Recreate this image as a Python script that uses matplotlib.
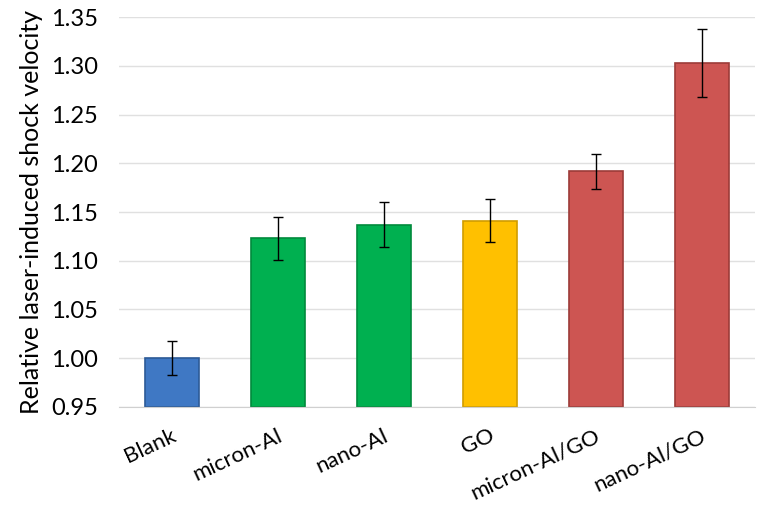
import numpy as np
import matplotlib.pyplot as plt
from matplotlib import transforms

samples = ['Blank', 'micron-Al', 'nano-Al', 'GO', 'micron-Al/GO', 'nano-Al/GO']
velocity = [1.000, 1.123, 1.137, 1.141, 1.192, 1.303]
err = [0.017, 0.022, 0.023, 0.022, 0.018, 0.035]
colors = ['#3f78c4', '#00b050', '#00b050', '#ffc000', '#cd5552', '#cd5552']
edges = ['#2c5a97', '#008a3c', '#008a3c', '#d19c00', '#9c3b38', '#9c3b38']
yticks = [0.95, 1.00, 1.05, 1.10, 1.15, 1.20, 1.25, 1.30, 1.35]

plt.rcParams['font.family'] = ['Lato', 'DejaVu Sans']

fig = plt.figure(figsize=(7.58, 5.05), dpi=100)
ax = fig.add_axes([119 / 758, 1 - 406.7 / 505, 636 / 758, (406.7 - 17.3) / 505])

x = np.arange(len(samples))
ax.bar(x, np.array(velocity) - 0.95, bottom=0.95, width=0.51, color=colors,
       edgecolor=edges, linewidth=1.2, zorder=2)
ax.errorbar(x, velocity, yerr=err, fmt='none', ecolor='black', elinewidth=1,
            capsize=3.5, capthick=1, zorder=3)

ax.set_xlim(-0.5, len(samples) - 0.5)
ax.set_ylim(0.95, 1.35)
ax.set_yticks(yticks)
ax.set_yticklabels(['%.2f' % v for v in yticks], fontsize=17)
ax.yaxis.grid(True, color='#e0e0e0', linewidth=1, zorder=0)
ax.set_axisbelow(True)
for s in ['top', 'right', 'left']:
    ax.spines[s].set_visible(False)
ax.spines['bottom'].set_color('#d0d0d0')
ax.tick_params(axis='both', length=0)
ax.tick_params(axis='y', pad=15)

ax.set_xticks(x)
ax.set_xticklabels(samples, fontsize=16, rotation=25, ha='right', rotation_mode='anchor')
offset = transforms.ScaledTranslation(-1 / 72, -10 / 72, fig.dpi_scale_trans)
for lab in ax.get_xticklabels():
    lab.set_transform(lab.get_transform() + offset)

ax.set_ylabel('Relative laser-induced shock velocity', fontsize=18, labelpad=6)

fig.savefig('out.png', dpi=100)
